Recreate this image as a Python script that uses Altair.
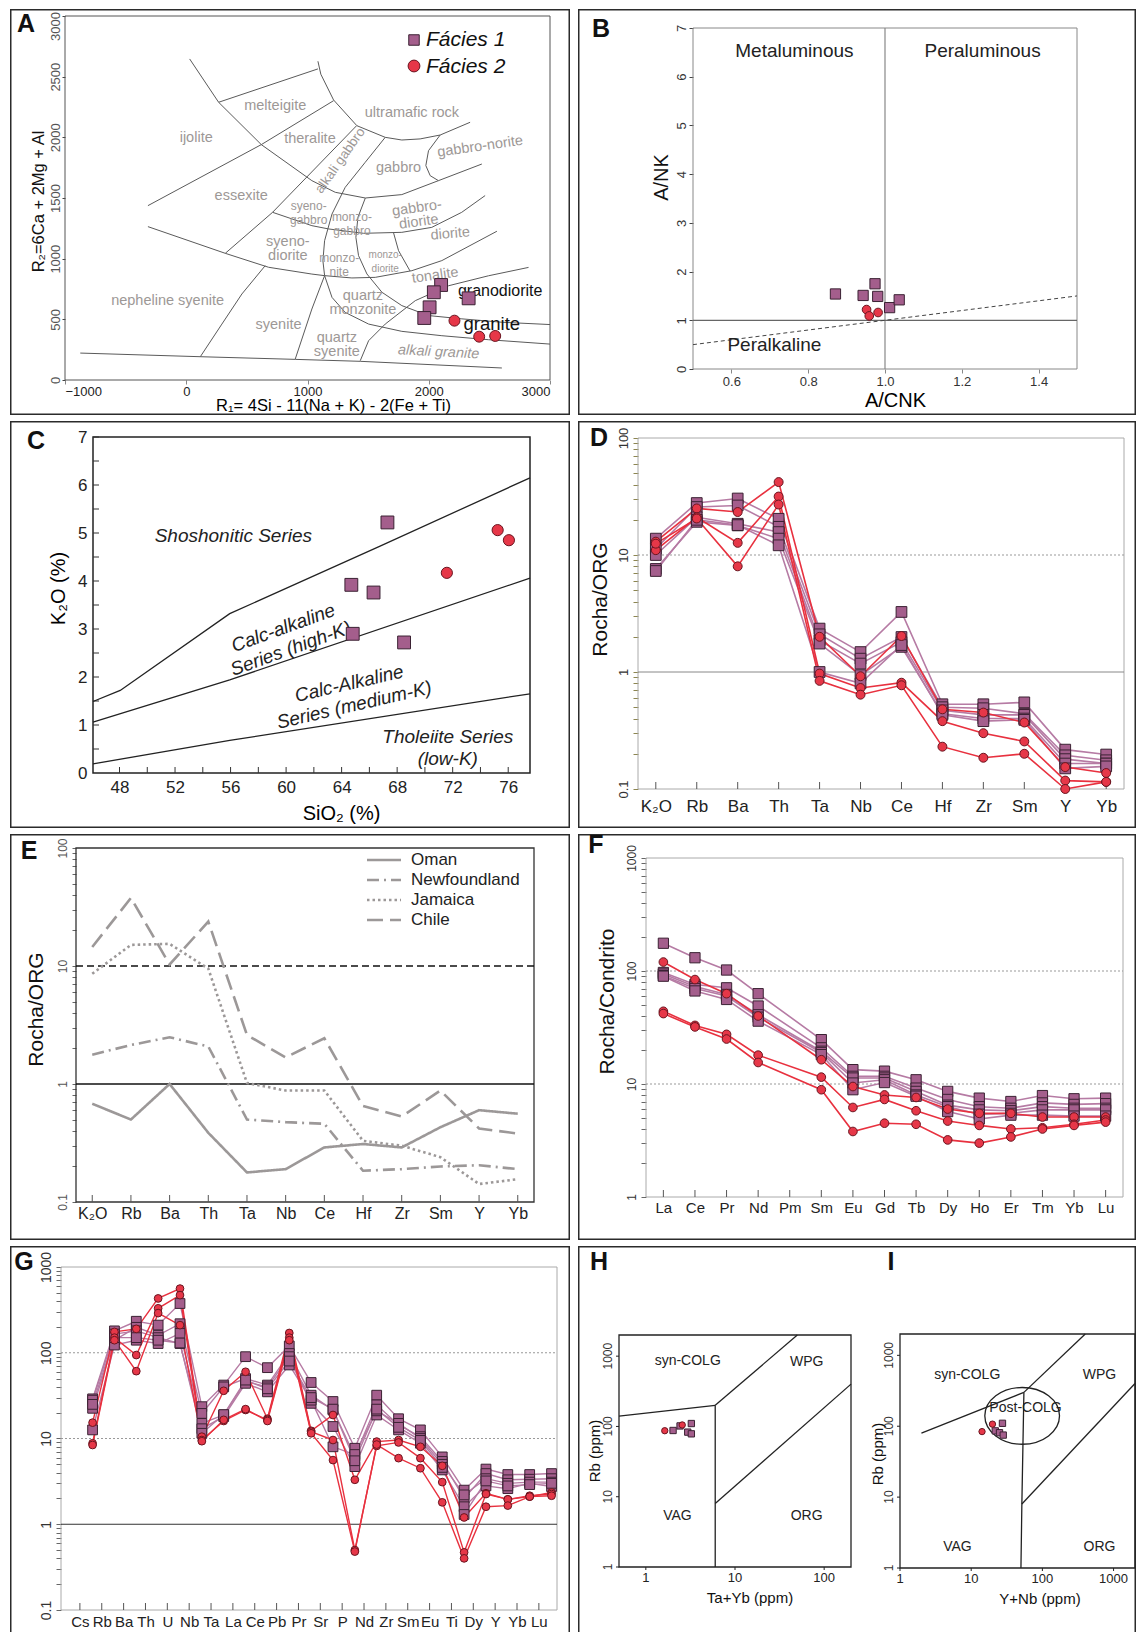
import altair as alt
import pandas as pd

FONT = "Liberation Sans"
F1_FILL, F1_STROKE, F1_LINE = "#a45e8c", "#3b2233", "#b67ba4"
F2_FILL, F2_STROKE, F2_LINE = "#e63748", "#6a1520", "#e8313f"
FRAME_COLOR = "#2b2b2b"
FACIES = ["Fácies 1", "Fácies 2"]

# ---------------- Panel A (R1-R2) ----------------
A_F1_X = [2102, 2042, 2007, 1963, 2329]
A_F1_Y = [783, 723, 599, 511, 673]
A_F2_X = [2212, 2416, 2548]
A_F2_Y = [489, 357, 363]
A_LINES = {
    "ultra": [(1086, 2627), (1110, 2520), (1215, 2308), (1407, 2096), (1641, 2000), (1778, 1978), (1929, 1987), (2094, 2019), (2341, 2124)],
    "norite": [(2094, 2019), (1998, 1890), (1976, 1767), (2012, 1684), (2080, 1643)],
    "arc": [(28, 2646), (267, 2289), (619, 1940), (1036, 1643), (1229, 1547), (1477, 1500), (1778, 1528), (2080, 1643), (2438, 1780)],
    "melt": [(267, 2289), (1086, 2564)],
    "essex": [(-316, 1437), (619, 1940), (1215, 2302)],
    "alkgab": [(1404, 2095), (712, 1382), (322, 1044)],
    "gabdio": [(712, 1382), (1036, 1272), (1174, 1245), (1462, 1209), (1778, 1217), (2025, 1258), (2272, 1382), (2465, 1520)],
    "diorite": [(-316, 1264), (322, 1044), (679, 929), (1036, 873), (1141, 860), (1366, 841), (1559, 846), (1861, 901), (2108, 984), (2562, 1226)],
    "c1": [(1641, 2000), (1476, 1794), (1311, 1588), (1202, 1368), (1141, 1148), (1127, 983), (1141, 860), (1202, 681), (1311, 557), (1504, 461), (1778, 401), (2108, 365), (2493, 332), (3000, 296)],
    "c2": [(1477, 1500), (1416, 1341), (1399, 1176), (1421, 1025), (1490, 874), (1614, 723), (1778, 613), (1998, 531), (2273, 504), (2603, 476), (3000, 457)],
    "c3": [(1435, 159), (1504, 324), (1641, 461), (1889, 654), (2164, 777), (2493, 859), (2823, 928)],
    "mzdio": [(1710, 1212), (1751, 1066), (1846, 898)],
    "nephsy": [(651, 942), (459, 709), (294, 461), (116, 192)],
    "qsy": [(1141, 860), (1036, 585), (899, 173)],
    "bottom": [(-874, 222), (116, 192), (899, 170), (1435, 154), (2603, 99)],
}
# text, x, y, angle, font size
A_GRAY_LABELS = [
    ("melteigite", 734, 2261, 0, 14.5), ("ultramafic rock", 1861, 2198, 0, 14.5),
    ("ijolite", 82, 1995, 0, 14.5), ("theralite", 1020, 1983, 0, 14.5),
    ("gabbro-norite", 2424, 1923, 352, 14.5), ("alkali gabbro", 1270, 1808, 305, 13.5),
    ("gabbro", 1751, 1744, 0, 14.5), ("essexite", 453, 1519, 0, 14.5),
    ("syeno-\ngabbro", 1010, 1434, 0, 12), ("monzo-\ngabbro", 1366, 1346, 0, 12),
    ("gabbro-\ndiorite", 1902, 1416, 352, 14.5), ("syeno-\ndiorite", 838, 1134, 0, 14.5),
    ("diorite", 2177, 1203, 355, 14.5), ("monzo-\nnite", 1261, 1004, 0, 12),
    ("monzo-\ndiorite", 1641, 1028, 0, 10), ("tonalite", 2053, 860, 352, 14.5),
    ("quartz\nmonzonite", 1457, 694, 0, 14.5), ("nepheline syenite", -154, 648, 0, 14.5),
    ("syenite", 761, 453, 0, 14.5), ("quartz\nsyenite", 1242, 343, 0, 14.5),
]
A_ITALIC_LABELS = [("alkali granite", 2081, 228, 3, 14.5)]
A_BLACK_LABELS = [("granodiorite", 2589, 731, 0, 16), ("granite", 2520, 461, 0, 18.5)]

# ---------------- Panel B (Shand) ----------------
B_F1_X = [0.871, 0.943, 0.974, 0.981, 1.012, 1.037]
B_F1_Y = [1.54, 1.51, 1.75, 1.49, 1.26, 1.42]
B_F2_X = [0.952, 0.959, 0.982]
B_F2_Y = [1.22, 1.09, 1.16]
B_VLINE = [(1.0, 0.0), (1.0, 7.0)]
B_HLINE = [(0.5, 1.0), (1.5, 1.0)]
B_DASH = [(0.5, 0.5), (1.5, 1.5)]
B_LABELS = [("Metaluminous", 0.764, 6.53), ("Peraluminous", 1.254, 6.53), ("Peralkaline", 0.712, 0.49)]

# ---------------- Panel C (SiO2-K2O) ----------------
C_F1_X = [67.3, 64.7, 66.3, 64.8, 68.5]
C_F1_Y = [5.22, 3.92, 3.76, 2.90, 2.72]
C_F2_X = [75.24, 76.05, 71.58]
C_F2_Y = [5.06, 4.85, 4.17]
C_LINES = {
    "shoshonitic": [(46.09, 1.49), (48.05, 1.72), (55.94, 3.32), (66.73, 4.72), (77.57, 6.15)],
    "highk": [(46.09, 1.06), (55.94, 1.94), (77.57, 4.06)],
    "lowk": [(46.09, 0.19), (55.94, 0.68), (77.57, 1.65)],
}
C_LABELS = [
    ("Shoshonitic Series", 56.2, 4.94, 0), ("Calc-alkaline\nSeries (high-K)", 59.8, 3.02, 340),
    ("Calc-Alkaline\nSeries (medium-K)", 64.55, 1.86, 347), ("Tholeiite Series\n(low-K)", 71.65, 0.74, 0),
]

# ---------------- Panel D (ORG normalised) ----------------
D_ELEMENTS = ["K₂O", "Rb", "Ba", "Th", "Ta", "Nb", "Ce", "Hf", "Zr", "Sm", "Y", "Yb"]
D_F1 = [
    [13.8, 27.8, 30.4, 20.4, 2.35, 1.48, 3.26, 0.53, 0.53, 0.55, 0.217, 0.197],
    [11.3, 25.7, 26.5, 17.4, 2.10, 1.30, 1.99, 0.50, 0.49, 0.44, 0.194, 0.176],
    [10.0, 21.0, 18.5, 15.7, 1.86, 1.18, 1.80, 0.47, 0.43, 0.43, 0.180, 0.165],
    [7.6, 19.2, 17.9, 13.8, 1.75, 0.94, 1.64, 0.44, 0.40, 0.40, 0.165, 0.165],
    [7.3, 20.0, 18.0, 12.1, 1.00, 0.80, 1.70, 0.43, 0.38, 0.39, 0.150, 0.156],
]
D_F2 = [
    [13.0, 25.0, 23.3, 42.0, 2.00, 0.92, 2.03, 0.48, 0.45, 0.37, 0.154, 0.137],
    [11.0, 21.0, 12.7, 31.6, 0.97, 0.73, 0.81, 0.38, 0.30, 0.255, 0.118, 0.115],
    [12.5, 20.5, 8.0, 27.0, 0.84, 0.64, 0.77, 0.23, 0.185, 0.20, 0.100, 0.115],
]

# ---------------- Panel E (reference granites) ----------------
E_SERIES = ["Oman", "Newfoundland", "Jamaica", "Chile"]
E_VALUES = [
    [0.68, 0.50, 1.00, 0.386, 0.178, 0.19, 0.29, 0.31, 0.29, 0.43, 0.60, 0.56],
    [1.77, 2.14, 2.49, 2.08, 0.50, 0.475, 0.46, 0.184, 0.19, 0.20, 0.205, 0.19],
    [8.6, 15.1, 15.4, 9.5, 1.02, 0.88, 0.88, 0.33, 0.30, 0.24, 0.142, 0.156],
    [14.5, 37.7, 10.3, 23.8, 2.6, 1.68, 2.44, 0.65, 0.53, 0.88, 0.42, 0.38],
]
E_DASHES = [[1, 0], [12, 5, 2, 5], [2.5, 3], [16, 7]]

# ---------------- Panel F (REE, chondrite) ----------------
F_ELEMENTS = ["La", "Ce", "Pr", "Nd", "Pm", "Sm", "Eu", "Gd", "Tb", "Dy", "Ho", "Er", "Tm", "Yb", "Lu"]
F_F1 = [
    [176, 131, 102, 63, None, 24.7, 13.4, 13.0, 10.9, 8.6, 7.5, 7.0, 7.9, 7.4, 7.5],
    [97, 76, 71, 49, None, 20.9, 11.7, 11.7, 9.2, 7.3, 6.3, 6.1, 6.8, 6.6, 6.7],
    [94, 73, 62, 41, None, 19.5, 11.3, 11.3, 8.6, 6.5, 5.9, 5.8, 6.3, 6.1, 6.1],
    [91, 70, 60, 39, None, 19.0, 10.2, 10.9, 8.0, 6.3, 5.4, 5.5, 5.9, 5.9, 5.9],
    [90, 66.6, 56, 36, None, 18.2, 8.9, 10.3, 7.8, 5.7, 4.9, 5.3, 5.3, 5.2, 5.2],
]
F_F2 = [
    [120, 84, 63, 40, None, 16.4, 9.5, 8.0, 7.6, 6.0, 5.5, 5.5, 5.1, 5.1, 5.1],
    [44, 33, 27.5, 18, None, 11.5, 6.2, 7.3, 5.8, 4.7, 4.3, 4.0, 4.1, 4.4, 4.8],
    [42, 32, 25, 15.5, None, 8.9, 3.8, 4.5, 4.4, 3.2, 3.0, 3.4, 4.0, 4.3, 4.6],
]

# ---------------- Panel G (primitive mantle spider) ----------------
G_ELEMENTS = ["Cs", "Rb", "Ba", "Th", "U", "Nb", "Ta", "La", "Ce", "Pb", "Pr", "Sr", "P", "Nd", "Zr", "Sm", "Eu", "Ti", "Dy", "Y", "Yb", "Lu"]
G_X_OFFSET = 0.58  # symbols sit to the right of each element tick in the original
G_F1 = [
    [29, 180, 233, 210, 375, 23.5, 42, 90, 67, 120, 45, 27, 7.7, 32, 17, 12.6, 6.1, 2.5, 4.4, 3.8, 3.8, 3.9],
    [22.5, 140, 198, 160, 218, 19.6, 40, 50, 42, 98, 32, 21.5, 6.2, 24.7, 14.4, 10.5, 5.4, 2.0, 3.9, 3.3, 3.35, 3.4],
    [12.6, 123, 140, 128, 168, 15, 18.8, 46, 40, 90, 25.7, 13.8, 4.7, 18.8, 12.6, 8.8, 4.3, 1.6, 2.8, 2.6, 3.0, 2.75],
    [28, 165, 180, 150, 128, 13, 18, 44, 35, 72, 28, 8.0, 6.5, 21, 15, 10, 5.0, 2.2, 3.4, 3.0, 3.1, 3.1],
    [25, 150, 150, 140, 130, 11.5, 19, 48, 38, 80, 30, 22, 5.5, 22, 13.5, 9.5, 4.6, 1.3, 3.2, 2.8, 2.9, 3.0],
]
G_F2 = [
    [15.3, 175, 190, 430, 560, 10.5, 36, 60, 17, 170, 12.3, 18.8, 3.3, 9.2, 9.6, 8.0, 4.8, 1.2, 2.3, 1.95, 2.1, 2.35],
    [8.8, 150, 94, 330, 470, 9.6, 16, 21.5, 16.5, 150, 12, 9.6, 0.5, 8.2, 9.0, 5.9, 3.1, 0.47, 2.25, 1.95, 2.15, 2.25],
    [8.4, 140, 61, 290, 210, 9.3, 16.5, 22, 16, 140, 11.5, 5.6, 0.48, 8.5, 5.9, 4.5, 1.8, 0.40, 1.6, 1.65, 2.1, 2.15],
]

# ---------------- Panels H and I (Pearce) ----------------
H_F1_X = [2.02, 2.42, 2.95, 3.24, 3.24]
H_F1_Y = [87.6, 101.7, 83, 110, 78.5]
H_F2_X = [1.63, 2.56]
H_F2_Y = [86.9, 105]
H_LINES = {
    "syn": [(0.5, 140), (6, 200)], "vert": [(6, 1), (6, 200)],
    "wpg": [(6, 200), (50, 2000)], "org": [(6, 8), (200, 400)],
}
H_LABELS = [("syn-COLG", 2.95, 850), ("WPG", 63.6, 822), ("VAG", 2.26, 5.3), ("ORG", 63.6, 5.3)]
H_X_TICKS = [1, 10, 100]

I_F1_X = [21.8, 27.5, 25, 28.2]
I_F1_Y = [86, 110, 81, 75]
I_F2_X = [14.2, 19.9]
I_F2_Y = [84, 107]
I_LINES = {
    "syn": [(2, 80), (55, 300)], "vert": [(55, 300), (51.5, 8), (50, 1)],
    "wpg": [(55, 300), (400, 2000)], "org": [(51.5, 8), (2000, 400)],
}
I_ELLIPSE = [(52, 140)]
I_LABELS = [("syn-COLG", 8.8, 527), ("WPG", 634, 527), ("Post-COLG", 58, 178), ("VAG", 6.4, 2.0), ("ORG", 634, 2.0)]
I_X_TICKS = [1, 10, 100, 1000]
RB_TICKS = [1, 10, 100, 1000]

ONE = pd.DataFrame({"k": [0]})


def pts(xs, ys):
    return pd.DataFrame({"x": xs, "y": ys})


def lines_df(lines):
    rows = []
    for name, p in lines.items():
        for i, (x, y) in enumerate(p):
            rows.append({"x": x, "y": y, "line": name, "o": i})
    return pd.DataFrame(rows)


class Geo:
    """Panel frame (Wf x Hf) with a plot rectangle at (l, t) of size W x H, all in pixels."""
    def __init__(self, Wf, Hf, l, t, W, H):
        self.Wf, self.Hf, self.l, self.t, self.W, self.H = Wf, Hf, l, t, W, H

    @property
    def xr(self):
        return [self.l, self.l + self.W]

    @property
    def yr(self):
        return [self.t + self.H, self.t]

    @property
    def xoff(self):  # bottom-axis offset
        return -(self.Hf - self.t - self.H)

    @property
    def yoff(self):  # left-axis offset
        return -self.l


def frame(Wf, Hf, sides="ltrb"):
    e = 0.75
    x0, x1, y0, y1 = e, Wf - e, e, Hf - e
    segs = []
    if "l" in sides:
        segs.append((x0, y0, x0, Hf))
    if "r" in sides:
        segs.append((x1, y0, x1, Hf))
    if "t" in sides:
        segs.append((0, y0, Wf, y0))
    if "b" in sides:
        segs.append((0, y1, Wf, y1))
    return [alt.Chart(ONE).mark_rule(color=FRAME_COLOR, strokeWidth=1.5).encode(
        x=alt.value(a), y=alt.value(c), x2=alt.value(bb), y2=alt.value(d)) for a, c, bb, d in segs]


def plot_box(g, color, width=1.0):
    return alt.Chart(ONE).mark_rect(fillOpacity=0, stroke=color, strokeWidth=width).encode(
        x=alt.value(g.l), x2=alt.value(g.l + g.W), y=alt.value(g.t), y2=alt.value(g.t + g.H))


def letter(ch, x, y):
    return alt.Chart(ONE).mark_text(text=ch, font=FONT, fontSize=25, fontWeight="bold", align="center",
                                    baseline="middle", color="#111").encode(x=alt.value(x), y=alt.value(y))


def squares(df, x, y, size):
    return alt.Chart(df).mark_point(shape="square", filled=True, fill=F1_FILL, stroke=F1_STROKE,
                                    strokeWidth=1, size=size, opacity=1).encode(x=x, y=y)


def circles(df, x, y, size):
    return alt.Chart(df).mark_point(shape="circle", filled=True, fill=F2_FILL, stroke=F2_STROKE,
                                    strokeWidth=1, size=size, opacity=1).encode(x=x, y=y)


def log_ticks(lo, hi):
    out = []
    for e in range(lo, hi):
        for m in range(1, 10):
            out.append(round(m * 10.0 ** e, 6))
    out.append(round(10.0 ** hi, 6))
    return out


LOG_LABEL = "abs(log(datum.value) / LN10 - round(log(datum.value) / LN10)) < 0.001 ? format(datum.value, '~g') : ''"


def yaxis_rot(g, title, titleX, titleY, fs=13, tfs=20, values=None, label_expr=None, tick=4, pad=2,
              tick_color="#444", label_color="#333", fmt=None, label_offset=None):
    kw = dict(labelAngle=270, labelAlign="center", labelBaseline="bottom", labelFontSize=fs,
              tickSize=tick, labelPadding=pad, tickColor=tick_color, labelColor=label_color,
              domain=False, labelOverlap=False, offset=g.yoff)
    if values is not None:
        kw["values"] = values
    if label_expr is not None:
        kw["labelExpr"] = label_expr
    if fmt is not None:
        kw["format"] = fmt
    if label_offset is not None:
        kw["labelOffset"] = label_offset
    if title is None:
        kw["title"] = None
    else:
        kw.update(title=title, titleFontSize=tfs, titleAngle=270, titleAlign="center",
                  titleBaseline="middle", titleX=titleX, titleY=titleY, titleFontWeight="normal",
                  titleColor="#111")
    return alt.Axis(**kw)


def spider_df(elements, samples, offset=None):
    rows = []
    for s, vals in enumerate(samples):
        for i, (el, v) in enumerate(zip(elements, vals)):
            if v is None:
                continue
            r = {"el": el, "i": i, "v": v, "s": s}
            if offset is not None:
                r["xq"] = i + offset
            rows.append(r)
    return pd.DataFrame(rows)


def spider_layers(df1, df2, xenc, yenc, sq, ci, lw=1.6):
    return [
        alt.Chart(df1).mark_line(color=F1_LINE, strokeWidth=lw).encode(x=xenc, y=yenc, detail="s:N", order="i:Q"),
        alt.Chart(df2).mark_line(color=F2_LINE, strokeWidth=lw).encode(x=xenc, y=yenc, detail="s:N", order="i:Q"),
        squares(df1, xenc, yenc, sq),
        circles(df2, xenc, yenc, ci),
    ]


def finish(g, layers):
    return alt.layer(*layers).properties(width=g.Wf, height=g.Hf)


# ======================= A =======================
gA = Geo(560, 406, 55, 7, 485, 364)
xA = alt.X("x:Q", scale=alt.Scale(domain=[-1000, 3000], range=gA.xr, nice=False, zero=False),
           axis=alt.Axis(values=[-1000, 0, 1000, 2000, 3000], format="d", labelFontSize=13, tickSize=4,
                         labelPadding=1, title="R₁= 4Si - 11(Na + K) - 2(Fe + Ti)", titleFontSize=16.5,
                         titleX=323, titleY=25, titleBaseline="middle", titleAlign="center",
                         domain=False, labelColor="#222", offset=gA.xoff))
yA = alt.Y("y:Q", scale=alt.Scale(domain=[0, 3000], range=gA.yr, nice=False, zero=False),
           axis=yaxis_rot(gA, "R₂=6Ca + 2Mg + Al", -27, 192, fs=13, tfs=16.5, fmt="d",
                          values=[0, 500, 1000, 1500, 2000, 2500, 3000], tick=3, pad=0, label_color="#555",
                          label_offset={"condition": {"test": "datum.value >= 3000", "value": 10}, "value": 0}))
A_lab = pd.DataFrame(A_GRAY_LABELS, columns=["t", "x", "y", "a", "fs"])
A_ita = pd.DataFrame(A_ITALIC_LABELS, columns=["t", "x", "y", "a", "fs"])
A_blk = pd.DataFrame(A_BLACK_LABELS, columns=["t", "x", "y", "a", "fs"])
lab_enc = dict(x=xA, y=yA, text="t:N", angle=alt.Angle("a:Q", scale=None), size=alt.Size("fs:Q", scale=None))
A_layers = frame(gA.Wf, gA.Hf) + [
    plot_box(gA, "#555"),
    alt.Chart(lines_df(A_LINES)).mark_line(color="#5a5a5a", strokeWidth=1).encode(x=xA, y=yA, detail="line:N", order="o:Q"),
    alt.Chart(A_lab).mark_text(color="#9d9896", lineBreak="\n", lineHeight=14, font=FONT).encode(**lab_enc),
    alt.Chart(A_ita).mark_text(color="#9d9896", fontStyle="italic", font=FONT).encode(**lab_enc),
    alt.Chart(A_blk).mark_text(color="#111", font=FONT).encode(**lab_enc),
    squares(pts(A_F1_X, A_F1_Y), xA, yA, 165),
    circles(pts(A_F2_X, A_F2_Y), xA, yA, 120),
    alt.Chart(ONE).mark_point(shape="square", filled=True, fill=F1_FILL, stroke=F1_STROKE, strokeWidth=1,
                              size=110, opacity=1).encode(x=alt.value(404), y=alt.value(31)),
    alt.Chart(ONE).mark_point(shape="circle", filled=True, fill=F2_FILL, stroke=F2_STROKE, strokeWidth=1,
                              size=140, opacity=1).encode(x=alt.value(404), y=alt.value(57)),
    alt.Chart(ONE).mark_text(text=FACIES[0], fontSize=21, fontStyle="italic", align="left", baseline="middle",
                             font=FONT, color="#111").encode(x=alt.value(416), y=alt.value(31)),
    alt.Chart(ONE).mark_text(text=FACIES[1], fontSize=21, fontStyle="italic", align="left", baseline="middle",
                             font=FONT, color="#111").encode(x=alt.value(416), y=alt.value(58)),
    letter("A", 16, 15),
]
chartA = finish(gA, A_layers)

# ======================= B =======================
gB = Geo(558, 406, 115, 19, 384, 341)
xB = alt.X("x:Q", scale=alt.Scale(domain=[0.5, 1.5], range=gB.xr, nice=False, zero=False),
           axis=alt.Axis(values=[0.6, 0.8, 1.0, 1.2, 1.4], format=".1f", labelFontSize=13, tickSize=4,
                         labelPadding=2, title="A/CNK", titleFontSize=20, titleX=317, titleY=31,
                         titleBaseline="middle", titleAlign="center", domain=False, labelColor="#333",
                         offset=gB.xoff))
yB = alt.Y("y:Q", scale=alt.Scale(domain=[0, 7], range=gB.yr, nice=False, zero=False),
           axis=yaxis_rot(gB, "A/NK", -32, 168, fs=13, tfs=20, values=list(range(8)), tick=4, pad=1))
B_lab = pd.DataFrame(B_LABELS, columns=["t", "x", "y"])
B_layers = frame(gB.Wf, gB.Hf) + [
    plot_box(gB, "#888"),
    alt.Chart(pd.DataFrame(B_VLINE, columns=["x", "y"])).mark_line(color="#888", strokeWidth=1.2).encode(x=xB, y=yB),
    alt.Chart(pd.DataFrame(B_HLINE, columns=["x", "y"])).mark_line(color="#666", strokeWidth=1.2).encode(x=xB, y=yB),
    alt.Chart(pd.DataFrame(B_DASH, columns=["x", "y"])).mark_line(color="#444", strokeWidth=1, strokeDash=[4, 3]).encode(x=xB, y=yB),
    alt.Chart(B_lab).mark_text(fontSize=19, font=FONT, color="#222").encode(x=xB, y=yB, text="t:N"),
    squares(pts(B_F1_X, B_F1_Y), xB, yB, 105),
    circles(pts(B_F2_X, B_F2_Y), xB, yB, 75),
    letter("B", 23, 20),
]
chartB = finish(gB, B_layers)

# ======================= C =======================
gC = Geo(560, 407, 83, 16, 437, 336)
xC = alt.X("x:Q", scale=alt.Scale(domain=[46.09, 77.57], range=gC.xr, nice=False, zero=False),
           axis=alt.Axis(values=list(range(48, 77, 4)), format="d", labelFontSize=17, ticks=False,
                         labelPadding=6, domain=False, title="SiO₂ (%)", titleFontSize=20, titleX=331,
                         titleY=40, titleBaseline="middle", titleAlign="center", labelColor="#222",
                         offset=gC.xoff))
yC = alt.Y("y:Q", scale=alt.Scale(domain=[0, 7], range=gC.yr, nice=False, zero=False),
           axis=alt.Axis(values=list(range(8)), labelFontSize=17, ticks=False, labelPadding=6, domain=False,
                         title="K₂O (%)", titleFontSize=20, titleAngle=270, titleAlign="center",
                         titleBaseline="middle", titleX=-35, titleY=167, labelColor="#222", offset=gC.yoff))
C_XT = [48 + 2 * k for k in range(15)]
C_YT = [0.5 * k for k in range(1, 15)]
C_lab = pd.DataFrame(C_LABELS, columns=["t", "x", "y", "a"])
C_layers = frame(gC.Wf, gC.Hf) + [
    plot_box(gC, "#222", 1.5),
    alt.Chart(pd.DataFrame({"x": C_XT})).mark_rule(color="#333").encode(
        x=xC, y=alt.value(gC.t + gC.H - 6), y2=alt.value(gC.t + gC.H)),
    alt.Chart(pd.DataFrame({"y": C_YT})).mark_rule(color="#333").encode(
        y=yC, x=alt.value(gC.l), x2=alt.value(gC.l + 6)),
    alt.Chart(lines_df(C_LINES)).mark_line(color="#222", strokeWidth=1.3).encode(x=xC, y=yC, detail="line:N", order="o:Q"),
    alt.Chart(C_lab).mark_text(fontSize=19, fontStyle="italic", font=FONT, color="#222", lineBreak="\n",
                               lineHeight=22).encode(x=xC, y=yC, text="t:N", angle=alt.Angle("a:Q", scale=None)),
    squares(pts(C_F1_X, C_F1_Y), xC, yC, 165),
    circles(pts(C_F2_X, C_F2_Y), xC, yC, 125),
    letter("C", 26, 20),
]
chartC = finish(gC, C_layers)


# ======================= spider helpers =======================
def cat_x(g, elements, pad, fs, lp):
    return alt.X("el:N", sort=elements, scale=alt.Scale(type="point", domain=elements, padding=pad, range=g.xr),
                 axis=alt.Axis(labelAngle=0, ticks=False, domain=False, labelFontSize=fs, labelPadding=lp,
                               title=None, labelColor="#222", labelOverlap=False, offset=g.xoff))


def hrule(g, vals, yenc, color, dash=None, width=1):
    kw = dict(color=color, strokeWidth=width)
    if dash is not None:
        kw["strokeDash"] = dash
    return alt.Chart(pd.DataFrame({"v": vals})).mark_rule(**kw).encode(
        y=yenc, x=alt.value(g.l), x2=alt.value(g.l + g.W))


def cat_ticks(g, elements, xenc):
    return alt.Chart(pd.DataFrame({"el": elements})).mark_rule(color="#555").encode(
        x=xenc, y=alt.value(g.t + g.H - 7), y2=alt.value(g.t + g.H))


# ======================= D =======================
gD = Geo(558, 407, 60, 17, 486, 351)
xD = cat_x(gD, D_ELEMENTS, 0.435, 17, 9)
yD = alt.Y("v:Q", scale=alt.Scale(type="log", domain=[0.1, 100], nice=False, range=gD.yr),
           axis=yaxis_rot(gD, "Rocha/ORG", -38, 178, fs=13, tfs=21, values=log_ticks(-1, 2),
                          label_expr=LOG_LABEL, tick=5, pad=3, tick_color="#8c8550"))
D_layers = frame(gD.Wf, gD.Hf) + [
    plot_box(gD, "#aaa"),
    hrule(gD, [10], yD, "#999", [2, 2]),
    hrule(gD, [1], yD, "#888"),
    cat_ticks(gD, D_ELEMENTS, xD),
] + spider_layers(spider_df(D_ELEMENTS, D_F1), spider_df(D_ELEMENTS, D_F2), xD, yD, 115, 80) + [
    letter("D", 21, 17),
]
chartD = finish(gD, D_layers)

# ======================= E =======================
gE = Geo(560, 406, 66, 14, 458, 354)
xE = cat_x(gE, D_ELEMENTS, 0.42, 16, 3)
yE = alt.Y("v:Q", scale=alt.Scale(type="log", domain=[0.1, 100], nice=False, range=gE.yr),
           axis=yaxis_rot(gE, "Rocha/ORG", -40, 175, fs=12, tfs=21, values=log_ticks(-1, 2),
                          label_expr=LOG_LABEL, tick=4, pad=3, tick_color="#666", label_color="#555"))
E_layers = frame(gE.Wf, gE.Hf) + [
    plot_box(gE, "#333", 1.3),
    hrule(gE, [10], yE, "#111", [7, 4], 1.5),
    hrule(gE, [1], yE, "#111", None, 1.5),
    cat_ticks(gE, D_ELEMENTS, xE),
]
for k, name in enumerate(E_SERIES):
    dfe = pd.DataFrame({"el": D_ELEMENTS, "v": E_VALUES[k], "i": list(range(len(D_ELEMENTS)))})
    E_layers.append(alt.Chart(dfe).mark_line(color="#9c9898", strokeWidth=2.6, strokeDash=E_DASHES[k]).encode(
        x=xE, y=yE, order="i:Q"))
    ly = 26 + 20 * k
    E_layers.append(alt.Chart(ONE).mark_rule(color="#9c9898", strokeWidth=2.6, strokeDash=E_DASHES[k]).encode(
        x=alt.value(357), x2=alt.value(391), y=alt.value(ly), y2=alt.value(ly)))
    E_layers.append(alt.Chart(ONE).mark_text(text=name, fontSize=17, align="left", baseline="middle", font=FONT,
                                             color="#222").encode(x=alt.value(401), y=alt.value(ly)))
E_layers += [letter("E", 19, 17)]
chartE = finish(gE, E_layers)

# ======================= F =======================
gF = Geo(558, 406, 68, 24, 477, 339)
xF = cat_x(gF, F_ELEMENTS, 0.55, 15, 3)
yF = alt.Y("v:Q", scale=alt.Scale(type="log", domain=[1, 1000], nice=False, range=gF.yr),
           axis=yaxis_rot(gF, "Rocha/Condrito", -39, 167, fs=12, tfs=21, values=log_ticks(0, 3),
                          label_expr=LOG_LABEL, tick=5, pad=3, tick_color="#666"))
F_layers = frame(gF.Wf, gF.Hf) + [
    plot_box(gF, "#aaa"),
    hrule(gF, [10, 100], yF, "#999", [2, 2]),
    cat_ticks(gF, F_ELEMENTS, xF),
] + spider_layers(spider_df(F_ELEMENTS, F_F1), spider_df(F_ELEMENTS, F_F2), xF, yF, 105, 75) + [
    letter("F", 18, 11),
]
chartF = finish(gF, F_layers)

# ======================= G =======================
gG = Geo(560, 386, 51, 21, 496, 343)
G_LABEL_EXPR = "[" + ",".join("'%s'" % e for e in G_ELEMENTS) + "][round(datum.value)]"
xG = alt.X("xq:Q", scale=alt.Scale(domain=[-0.865, 21.83], range=gG.xr, nice=False, zero=False),
           axis=alt.Axis(values=list(range(len(G_ELEMENTS))), labelExpr=G_LABEL_EXPR, ticks=False, domain=False,
                         labelFontSize=15, labelPadding=4, title=None, labelColor="#222", labelOverlap=False,
                         offset=gG.xoff))
yG = alt.Y("v:Q", scale=alt.Scale(type="log", domain=[0.1, 1000], nice=False, range=gG.yr),
           axis=yaxis_rot(gG, None, 0, 0, fs=14, values=log_ticks(-1, 3), label_expr=LOG_LABEL,
                          tick=5, pad=3, tick_color="#666"))
G_layers = frame(gG.Wf, gG.Hf, sides="ltr") + [
    plot_box(gG, "#aaa"),
    hrule(gG, [10, 100], yG, "#999", [2, 2]),
    hrule(gG, [1], yG, "#333"),
    alt.Chart(pd.DataFrame({"xq": list(range(len(G_ELEMENTS)))})).mark_rule(color="#555").encode(
        x=xG, y=alt.value(gG.t + gG.H - 7), y2=alt.value(gG.t + gG.H)),
] + spider_layers(spider_df(G_ELEMENTS, G_F1, G_X_OFFSET), spider_df(G_ELEMENTS, G_F2, G_X_OFFSET), xG, yG, 95, 60, 1.4) + [
    letter("G", 14, 16),
]
chartG = finish(gG, G_layers)


# ======================= H + I (one view, own scales, hand-made axes) =======================
def pearce_layers(g, xdom, xticks, xtitle, title_x, lines, labels, f1x, f1y, f2x, f2y, let, letpos,
                  ytitle_x, ytitle_y, extra=None):
    xs = alt.Scale(type="log", domain=xdom, nice=False, range=g.xr)
    ys = alt.Scale(type="log", domain=[1, 2000], nice=False, range=g.yr)
    xe = alt.X("x:Q", scale=xs, axis=None)
    ye = alt.Y("y:Q", scale=ys, axis=None)
    base = g.t + g.H
    lab = pd.DataFrame(labels, columns=["t", "x", "y"])
    xt = pd.DataFrame({"x": xticks, "t": ["%g" % v for v in xticks]})
    yt = pd.DataFrame({"y": RB_TICKS, "t": ["%g" % v for v in RB_TICKS]})
    layers = [
        plot_box(g, "#222", 1.3),
        alt.Chart(lines_df(lines)).mark_line(color="#222", strokeWidth=1.3).encode(x=xe, y=ye, detail="line:N", order="o:Q"),
        alt.Chart(lab).mark_text(fontSize=14, font=FONT, color="#222").encode(x=xe, y=ye, text="t:N"),
        alt.Chart(xt).mark_rule(color="#222").encode(x=xe, y=alt.value(base), y2=alt.value(base + 3)),
        alt.Chart(xt).mark_text(fontSize=13, font=FONT, color="#222", baseline="top").encode(
            x=xe, y=alt.value(base + 5), text="t:N"),
        alt.Chart(yt).mark_rule(color="#222").encode(y=ye, x=alt.value(g.l - 3), x2=alt.value(g.l)),
        alt.Chart(yt).mark_text(fontSize=12, font=FONT, color="#333", angle=270, align="center",
                                baseline="bottom").encode(y=ye, x=alt.value(g.l - 4), text="t:N"),
        alt.Chart(ONE).mark_text(text=xtitle, fontSize=15, font=FONT, color="#111", align="center",
                                 baseline="middle").encode(x=alt.value(title_x), y=alt.value(base + 31)),
        alt.Chart(ONE).mark_text(text="Rb (ppm)", fontSize=15, font=FONT, color="#111", align="center",
                                 baseline="middle", angle=270).encode(x=alt.value(ytitle_x), y=alt.value(ytitle_y)),
    ]
    if extra is not None:
        layers.append(alt.Chart(pd.DataFrame(extra, columns=["x", "y"])).mark_point(
            shape="M -1 0 A 1 0.76 0 1 0 1 0 A 1 0.76 0 1 0 -1 0 Z", size=5580, filled=False,
            stroke="#222", strokeWidth=1.3, opacity=1).encode(x=xe, y=ye))
    layers += [squares(pts(f1x, f1y), xe, ye, 40), circles(pts(f2x, f2y), xe, ye, 40),
               letter(let, letpos[0], letpos[1])]
    return layers


HI_W, HI_H = 558, 386
gH = Geo(HI_W, HI_H, 41, 89, 232, 232)
gI = Geo(HI_W, HI_H, 322, 88, 235, 234)
HI_layers = frame(HI_W, HI_H, sides="ltr")
HI_layers += pearce_layers(gH, [0.5, 200], H_X_TICKS, "Ta+Yb (ppm)", 172, H_LINES, H_LABELS,
                           H_F1_X, H_F1_Y, H_F2_X, H_F2_Y, "H", (21, 16), 17, 205)
HI_layers += pearce_layers(gI, [1, 2000], I_X_TICKS, "Y+Nb (ppm)", 462, I_LINES, I_LABELS,
                           I_F1_X, I_F1_Y, I_F2_X, I_F2_Y, "I", (313, 16), 300, 208, extra=I_ELLIPSE)
chartHI = alt.layer(*HI_layers).resolve_scale(x="independent", y="independent").properties(
    width=HI_W, height=HI_H)

chart = alt.concat(chartA, chartB, chartC, chartD, chartE, chartF, chartG, chartHI, columns=2,
                   spacing={"row": 6, "column": 8}, bounds="flush", align="each").resolve_scale(
    x="independent", y="independent").properties(
    padding={"left": 8, "top": 8, "right": 0, "bottom": 0}, background="white"
).configure(font=FONT).configure_view(stroke="transparent").configure_axis(
    labelFont=FONT, titleFont=FONT, grid=False, titleFontWeight="normal")

chart.save("out.html", embed_options={"renderer": "svg", "actions": False})
